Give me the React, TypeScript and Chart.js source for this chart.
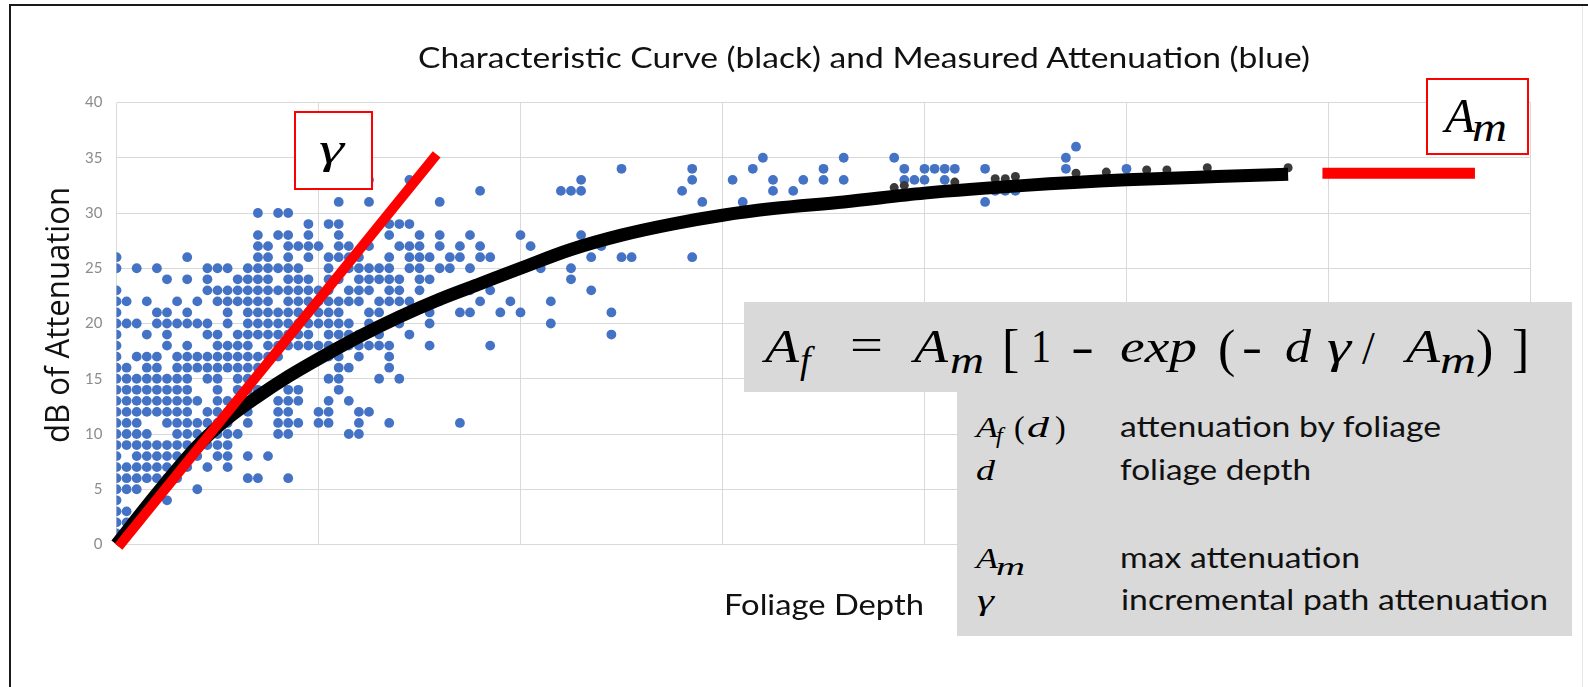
import React, { useEffect, useRef } from 'react';
import { Chart, registerables } from 'chart.js';

Chart.register(...registerables);

// ---------------- DATA ----------------
// Measured attenuation: [dB row, foliage depths having a measurement at that dB]
const measuredRows: Array<[number, number[]]> = [
  [36, [95]],
  [35, [64, 72, 77, 94]],
  [34, [50, 57, 63, 70, 78, 80, 81, 82, 83, 86, 94, 100]],
  [33, [25, 29, 46, 57, 61, 65, 68, 70, 72, 78, 79, 80, 82]],
  [32, [36, 44, 45, 46, 56, 65, 67, 87, 88, 89]],
  [31, [22, 25, 32, 58, 62, 86]],
  [30, [14, 16, 17]],
  [29, [19, 21, 22, 27, 28, 29]],
  [28, [14, 16, 17, 19, 22, 27, 30, 32, 35, 40, 46]],
  [27, [14, 15, 17, 18, 19, 20, 22, 23, 25, 28, 29, 30, 32, 34, 36, 41, 48]],
  [26, [0, 7, 14, 15, 17, 19, 21, 22, 23, 24, 27, 29, 30, 31, 33, 34, 36, 37, 43, 47, 50, 51, 57]],
  [25, [0, 2, 4, 9, 10, 11, 13, 14, 15, 16, 17, 18, 21, 23, 24, 25, 26, 27, 29, 30, 32, 33, 35, 42, 45]],
  [24, [5, 7, 9, 12, 13, 14, 15, 17, 18, 19, 21, 22, 24, 25, 26, 27, 28, 30, 31, 45]],
  [23, [0, 9, 10, 11, 12, 13, 14, 15, 16, 17, 18, 19, 20, 21, 23, 24, 25, 27, 28, 30, 35, 37, 47]],
  [22, [0, 1, 3, 6, 8, 10, 11, 12, 13, 14, 15, 17, 18, 19, 20, 21, 22, 23, 24, 26, 27, 28, 29, 32, 36, 39, 43]],
  [21, [0, 4, 5, 7, 11, 13, 14, 15, 16, 17, 18, 19, 20, 21, 22, 25, 26, 31, 34, 35, 38, 40, 49]],
  [20, [0, 1, 2, 4, 5, 6, 7, 8, 9, 11, 13, 14, 15, 16, 17, 18, 19, 20, 21, 22, 23, 25, 28, 31, 43]],
  [19, [0, 3, 5, 9, 10, 12, 13, 14, 15, 16, 17, 18, 19, 21, 22, 23, 24, 26, 29, 49]],
  [18, [0, 5, 7, 10, 11, 12, 13, 15, 16, 17, 18, 19, 20, 21, 23, 24, 25, 26, 27, 31, 37]],
  [17, [0, 2, 3, 4, 6, 7, 8, 9, 10, 11, 12, 13, 14, 15, 16, 21, 22, 24, 27]],
  [16, [0, 1, 3, 4, 6, 7, 8, 9, 10, 11, 12, 13, 14, 22, 23, 27]],
  [15, [0, 1, 2, 3, 4, 5, 6, 7, 9, 10, 12, 13, 21, 22, 26, 28]],
  [14, [0, 1, 2, 3, 4, 5, 6, 7, 10, 12, 13, 14, 17, 18, 22]],
  [13, [0, 1, 2, 3, 4, 5, 6, 7, 8, 10, 11, 12, 13, 16, 17, 18, 21, 23]],
  [12, [0, 1, 2, 3, 4, 5, 6, 7, 9, 10, 11, 12, 13, 16, 17, 20, 21, 24, 25]],
  [11, [0, 1, 2, 5, 6, 7, 8, 9, 10, 11, 13, 16, 17, 18, 20, 21, 24, 27, 34]],
  [10, [0, 1, 2, 3, 6, 7, 8, 9, 10, 11, 12, 16, 17, 23, 24]],
  [9, [0, 1, 2, 3, 4, 5, 6, 7, 8, 9, 10, 11]],
  [8, [0, 2, 3, 4, 5, 6, 7, 8, 10, 11, 13, 15]],
  [7, [0, 1, 2, 3, 4, 5, 6, 7, 9, 11]],
  [6, [0, 1, 2, 3, 4, 5, 6, 13, 14, 17]],
  [5, [0, 1, 2, 8]],
  [4, [0, 5]],
  [3, [0, 1]],
  [2, [0, 1]],
  [1, [0]],
  [0, [0]],
];

// Characteristic curve (black)
const curveDepth = [0, 4, 8, 11, 14, 17, 20, 24, 28, 32, 36, 40, 45, 50, 55, 60, 65, 72, 80, 90, 100, 109, 116];
const curveDb = [0, 4.6, 8.9, 11.4, 13.4, 15.2, 16.8, 18.8, 20.6, 22.2, 23.6, 25.0, 26.7, 28.0, 29.0, 29.8, 30.4, 31.0, 31.8, 32.5, 33.0, 33.3, 33.5];

// Markers of the characteristic curve peeking out of the thick line
const curveMarkDepth = [77, 78, 83, 87, 88, 89, 95, 98, 102, 104, 108, 116];
const curveMarkDb = [32.3, 32.5, 32.8, 33.1, 33.1, 33.3, 33.6, 33.7, 33.9, 33.9, 34.1, 34.1];

// Red annotation lines: initial slope (gamma) and asymptote (A_m)
const gammaLineDepth = [0.2, 31.7];
const gammaLineDb = [-0.2, 35.3];
const amLineDepth = [119.4, 134.5];
const amLineDb = [33.6, 33.6];

// Axes
const xRange = [0, 140];
const xStep = 20;
const yRange = [0, 40];
const yStep = 5;

const titleText = 'Characteristic Curve (black) and Measured Attenuation (blue)';
const xTitle = 'Foliage Depth';
const yTitle = 'dB of Attenuation';
const legendRows = ['attenuation by foliage', 'foliage depth', 'max attenuation', 'incremental path attenuation'];

// ---------------- TEXT HELPERS ----------------
let measureCtx: CanvasRenderingContext2D | null = null;
function measure(text: string, font: string) {
  if (!measureCtx) measureCtx = document.createElement('canvas').getContext('2d');
  const c = measureCtx!;
  c.font = font;
  const m = c.measureText(text);
  const asc = (m as any).fontBoundingBoxAscent ?? m.actualBoundingBoxAscent;
  const desc = (m as any).fontBoundingBoxDescent ?? m.actualBoundingBoxDescent;
  return { w: m.width, asc, desc };
}

const SERIF = '"Liberation Serif", "DejaVu Serif", serif';
const SANS = 'Lato, "Open Sans", sans-serif';

type TxtProps = {
  text: string;
  x: number;
  base: number;
  size: number;
  family: string;
  italic?: boolean;
  color?: string;
  width?: number;
  rotate?: number;
};

function Txt({ text, x, base, size, family, italic, color = '#000', width, rotate }: TxtProps) {
  const font = `${italic ? 'italic ' : ''}${size}px ${family}`;
  const m = measure(text, font);
  const sx = width ? width / m.w : 1;
  const lh = Math.round(size * 1.3);
  const top = -((lh - (m.asc + m.desc)) / 2 + m.asc);
  return (
    <div
      style={{
        position: 'absolute',
        left: x,
        top: base,
        width: 0,
        height: 0,
        transform: rotate ? `rotate(${rotate}deg)` : undefined,
        transformOrigin: '0 0',
      }}
    >
      <span
        style={{
          position: 'absolute',
          left: 0,
          top,
          whiteSpace: 'nowrap',
          font,
          lineHeight: `${lh}px`,
          color,
          transform: `scaleX(${sx})`,
          transformOrigin: '0 0',
        }}
      >
        {text}
      </span>
    </div>
  );
}

function zip(xs: number[], ys: number[]) {
  return xs.map((x, i) => ({ x, y: ys[i] }));
}

// ---------------- COMPONENT ----------------
export default function App() {
  const canvasRef = useRef<HTMLCanvasElement | null>(null);

  useEffect(() => {
    if (!canvasRef.current) return;
    const measured = measuredRows.flatMap(([db, depths]) => depths.map((d) => ({ x: d, y: db })));
    const chart = new Chart(canvasRef.current, {
      type: 'scatter',
      data: {
        datasets: [
          {
            label: 'gamma',
            data: zip(gammaLineDepth, gammaLineDb),
            showLine: true,
            borderColor: '#ff0000',
            backgroundColor: '#ff0000',
            borderWidth: 10,
            pointRadius: 0,
            borderCapStyle: 'butt',
            clip: false,
            order: 0,
          } as any,
          {
            label: 'A_m',
            data: zip(amLineDepth, amLineDb),
            showLine: true,
            borderColor: '#ff0000',
            backgroundColor: '#ff0000',
            borderWidth: 11,
            pointRadius: 0,
            borderCapStyle: 'butt',
            clip: false,
            order: 1,
          } as any,
          {
            label: 'Characteristic Curve',
            data: zip(curveDepth, curveDb),
            showLine: true,
            borderColor: '#000000',
            backgroundColor: '#000000',
            borderWidth: 13,
            pointRadius: 0,
            cubicInterpolationMode: 'monotone',
            borderCapStyle: 'butt',
            clip: false,
            order: 2,
          } as any,
          {
            label: 'Curve points',
            data: zip(curveMarkDepth, curveMarkDb),
            pointRadius: 4.5,
            backgroundColor: '#3a3a3a',
            borderWidth: 0,
            order: 3,
          },
          {
            label: 'Measured Attenuation',
            data: measured,
            pointRadius: 4.9,
            backgroundColor: '#4472C4',
            borderWidth: 0,
            order: 4,
          },
        ],
      },
      options: {
        animation: false,
        responsive: false,
        devicePixelRatio: 1,
        events: [],
        layout: { padding: { left: 0, right: 57.5, top: 102.5, bottom: 142.5 } },
        plugins: {
          legend: { display: false },
          title: { display: false },
          tooltip: { enabled: false },
        },
        scales: {
          x: {
            type: 'linear',
            min: xRange[0],
            max: xRange[1],
            ticks: { display: false, stepSize: xStep },
            grid: { color: '#d9d9d9', lineWidth: 1, drawTicks: false },
            border: { display: false },
            afterFit: (s: any) => {
              s.height = 0;
            },
          },
          y: {
            type: 'linear',
            min: yRange[0],
            max: yRange[1],
            ticks: {
              stepSize: yStep,
              padding: 14,
              color: '#8c8c8c',
              font: { family: 'Lato', size: 15 },
            },
            grid: { color: '#d9d9d9', lineWidth: 1, drawTicks: false },
            border: { display: false },
            afterFit: (s: any) => {
              s.width = 116.5;
            },
          },
        },
      } as any,
    });
    return () => chart.destroy();
  }, []);

  const mathSize = 46;
  const fBase = 362;
  const fSub = 373;

  return (
    <div
      style={{
        position: 'absolute',
        left: 0,
        top: 0,
        width: 1588,
        height: 687,
        overflow: 'hidden',
        background: '#ffffff',
      }}
    >
      <canvas ref={canvasRef} width={1588} height={687} style={{ position: 'absolute', left: 0, top: 0, width: 1588, height: 687 }} />

      {/* frame */}
      <div style={{ position: 'absolute', left: 9, top: 4, width: 1579, height: 2, background: '#1a1a1a' }} />
      <div style={{ position: 'absolute', left: 9, top: 4, width: 2, height: 683, background: '#1a1a1a' }} />
      <div style={{ position: 'absolute', left: 1582, top: 6, width: 1, height: 681, background: '#e6e6e6' }} />

      {/* titles */}
      <Txt text={titleText} x={418} base={68} size={29} family={SANS} color="#111" width={893} />
      <Txt text={xTitle} x={724} base={615} size={28} family={SANS} color="#111" width={200} />
      <Txt text={yTitle} x={69} base={443} size={32} family='"Open Sans", sans-serif' color="#111" width={256} rotate={-90} />

      {/* gamma box */}
      <div style={{ position: 'absolute', left: 294, top: 111, width: 79, height: 79, boxSizing: 'border-box', border: '2px solid #ff0000', background: '#fff' }} />
      <Txt text="γ" x={319} base={163} size={44} family={SERIF} italic width={25} />

      {/* A_m box */}
      <div style={{ position: 'absolute', left: 1426, top: 78, width: 103, height: 77, boxSizing: 'border-box', border: '2px solid #ff0000', background: '#fff' }} />
      <Txt text="A" x={1445} base={132} size={48} family={SERIF} italic width={30} />
      <Txt text="m" x={1472} base={141} size={42} family={SERIF} italic width={35} />

      {/* formula box */}
      <div style={{ position: 'absolute', left: 744, top: 302, width: 828, height: 90, background: '#d9d9d9' }} />
      <div style={{ position: 'absolute', left: 957, top: 390, width: 615, height: 246, background: '#d9d9d9' }} />

      <Txt text="A" x={765} base={fBase} size={mathSize} family={SERIF} italic width={34} />
      <Txt text="f" x={800} base={fSub} size={38} family={SERIF} italic />
      <Txt text="=" x={850} base={fBase - 2} size={mathSize} family={SERIF} width={33} />
      <Txt text="A" x={914} base={fBase} size={mathSize} family={SERIF} italic width={34} />
      <Txt text="m" x={950} base={fSub} size={38} family={SERIF} italic width={34} />
      <Txt text="[" x={1002} base={fBase + 4} size={52} family={SERIF} />
      <Txt text="1" x={1031} base={fBase} size={mathSize} family={SERIF} width={20} />
      <Txt text="-" x={1071} base={fBase} size={mathSize} family={SERIF} width={23} />
      <Txt text="exp" x={1120} base={fBase} size={mathSize} family={SERIF} italic width={77} />
      <Txt text="(" x={1218} base={fBase + 4} size={52} family={SERIF} />
      <Txt text="-" x={1242} base={fBase} size={mathSize} family={SERIF} width={20} />
      <Txt text="d" x={1285} base={fBase} size={mathSize} family={SERIF} italic width={26} />
      <Txt text="γ" x={1327} base={fBase} size={mathSize} family={SERIF} italic width={24} />
      <Txt text="/" x={1362} base={fBase + 2} size={mathSize} family={SERIF} />
      <Txt text="A" x={1406} base={fBase} size={mathSize} family={SERIF} italic width={34} />
      <Txt text="m" x={1440} base={fSub} size={38} family={SERIF} italic width={36} />
      <Txt text=")" x={1476} base={fBase + 4} size={52} family={SERIF} />
      <Txt text="]" x={1512} base={fBase + 4} size={52} family={SERIF} />

      {/* symbol legend */}
      <Txt text="A" x={976} base={437} size={30} family={SERIF} italic width={22} />
      <Txt text="f" x={996} base={443} size={24} family={SERIF} italic />
      <Txt text="(" x={1014} base={438} size={32} family={SERIF} />
      <Txt text="d" x={1027} base={437} size={30} family={SERIF} italic width={22} />
      <Txt text=")" x={1055} base={438} size={32} family={SERIF} />
      <Txt text="d" x={976} base={480} size={30} family={SERIF} italic width={19} />
      <Txt text="A" x={976} base={568} size={30} family={SERIF} italic width={22} />
      <Txt text="m" x={996} base={575} size={26} family={SERIF} italic width={29} />
      <Txt text="γ" x={977} base={610} size={30} family={SERIF} italic width={17} />

      <Txt text={legendRows[0]} x={1120} base={437} size={28} family={SANS} color="#111" width={322} />
      <Txt text={legendRows[1]} x={1120} base={480} size={28} family={SANS} color="#111" width={191} />
      <Txt text={legendRows[2]} x={1120} base={568} size={28} family={SANS} color="#111" width={240} />
      <Txt text={legendRows[3]} x={1121} base={610} size={28} family={SANS} color="#111" width={427} />
    </div>
  );
}
